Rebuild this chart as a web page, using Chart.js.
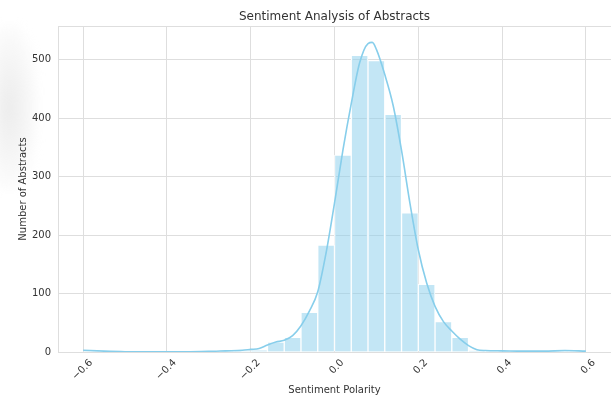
<!DOCTYPE html>
<html>
<head>
<meta charset="utf-8">
<script src="https://cdn.jsdelivr.net/npm/chart.js@4.4.0/dist/chart.umd.min.js"></script>
<style>
  html, body { margin: 0; padding: 0; background: #fff; }
  #wrap { position: relative; width: 611px; height: 396px; overflow: hidden; }
  #smudge {
    position: absolute; left: -6px; top: 25px; width: 44px; height: 165px;
    background: radial-gradient(ellipse at 35% 50%, rgba(200,200,200,0.35), rgba(225,225,225,0.18) 60%, rgba(255,255,255,0) 80%);
    filter: blur(4px);
  }
  canvas { position: absolute; left: 0; top: 0; }
</style>
</head>
<body>
<div id="wrap">
  <div id="smudge"></div>
  <canvas id="sentimentChart" width="611" height="396"></canvas>
</div>
<script>
// histogram bins (centres, width 0.04) and counts
const binCenters = [
  -0.58, -0.54, -0.50, -0.46, -0.42, -0.38, -0.34, -0.30, -0.26, -0.22,
  -0.18, -0.14, -0.10, -0.06, -0.02, 0.02, 0.06, 0.10, 0.14, 0.18,
  0.22, 0.26, 0.30, 0.34, 0.38, 0.42, 0.46, 0.50, 0.54, 0.58
];
const binCounts = [
  1, 0, 0, 0, 0, 0, 0, 0, 1, 1,
  3, 17, 25, 68, 183, 337, 508, 499, 407, 238,
  116, 52, 25, 2, 1, 1, 1, 0, 1, 1
];

// density curve
const kdeX = [
  -0.60, -0.55, -0.50, -0.45, -0.40, -0.35, -0.30, -0.26, -0.22, -0.20,
  -0.18, -0.16, -0.14, -0.12, -0.10, -0.08, -0.06, -0.04, -0.02, 0.00,
  0.02, 0.04, 0.06, 0.08, 0.09, 0.10, 0.12, 0.14, 0.16, 0.18,
  0.20, 0.22, 0.24, 0.26, 0.28, 0.30, 0.32, 0.34, 0.36, 0.40,
  0.45, 0.50, 0.55, 0.60
];
const kdeY = [
  3, 1.5, 0.5, 0.3, 0.3, 0.5, 1, 2, 3, 4.5,
  6, 12, 17, 20, 28, 45, 70, 103, 170, 255,
  345, 425, 495, 528, 530, 518, 475, 422, 345, 255,
  175, 118, 78, 52, 36, 22, 11, 4, 2.5, 2,
  1.5, 1.5, 2.5, 1.5
];

const xTicks = [-0.6, -0.4, -0.2, 0.0, 0.2, 0.4, 0.6];
const xTickLabels = ["\u22120.6", "\u22120.4", "\u22120.2", "0.0", "0.2", "0.4", "0.6"];
const yTicks = [0, 100, 200, 300, 400, 500];

const gridColor = "#dedede";
const textColor = "#333333";
const font = "DejaVu Sans";

// seaborn-ish top spine
const topSpine = {
  id: "topSpine",
  afterDraw(chart) {
    const { ctx, chartArea } = chart;
    ctx.save();
    ctx.strokeStyle = gridColor;
    ctx.lineWidth = 1;
    ctx.beginPath();
    ctx.moveTo(chartArea.left, chartArea.top + 0.5);
    ctx.lineTo(chartArea.right, chartArea.top + 0.5);
    ctx.stroke();
    ctx.restore();
  },
};

const ctx = document.getElementById("sentimentChart").getContext("2d");
new Chart(ctx, {
  data: {
    datasets: [
      {
        type: "line",
        data: kdeX.map((x, i) => ({ x: x, y: kdeY[i] })),
        borderColor: "#87CEEB",
        borderWidth: 1.6,
        pointRadius: 0,
        cubicInterpolationMode: "monotone",
        fill: false,
        order: 0,
      },
      {
        type: "bar",
        data: binCenters.map((x, i) => ({ x: x, y: binCounts[i] })),
        backgroundColor: "rgba(135, 206, 235, 0.5)",
        borderColor: "#ffffff",
        borderWidth: 1,
        barPercentage: 1,
        categoryPercentage: 1,
        order: 1,
      },
    ],
  },
  options: {
    responsive: false,
    animation: false,
    layout: { padding: 0 },
    plugins: {
      legend: { display: false },
      tooltip: { enabled: false },
      title: {
        display: true,
        fullSize: false,
        text: "Sentiment Analysis of Abstracts",
        color: textColor,
        font: { family: font, size: 12, weight: "normal" },
        padding: { top: 10, bottom: 1.6 },
      },
    },
    scales: {
      x: {
        type: "linear",
        min: -0.66,
        max: 0.66,
        offset: false,
        afterBuildTicks: (scale) => {
          scale.ticks = xTicks.map((v) => ({ value: v }));
        },
        afterFit: (scale) => {
          scale.height = 44;
        },
        ticks: {
          autoSkip: false,
          minRotation: 45,
          maxRotation: 45,
          labelOffset: 8,
          padding: 5,
          color: textColor,
          font: { family: font, size: 10 },
          callback: (v) => {
            const i = xTicks.findIndex((t) => Math.abs(t - v) < 1e-9);
            return i >= 0 ? xTickLabels[i] : "";
          },
        },
        grid: { color: gridColor, drawTicks: false, offset: false },
        border: { color: gridColor },
        title: {
          display: true,
          text: "Sentiment Polarity",
          color: textColor,
          font: { family: font, size: 10 },
          padding: { top: 0, bottom: 0 },
        },
      },
      y: {
        min: 0,
        max: 558,
        afterBuildTicks: (scale) => {
          scale.ticks = yTicks.map((v) => ({ value: v }));
        },
        afterFit: (scale) => {
          scale.width = 58;
        },
        ticks: {
          padding: 7,
          color: textColor,
          font: { family: font, size: 10 },
        },
        grid: { color: gridColor, drawTicks: false },
        border: { color: gridColor },
        title: {
          display: true,
          text: "Number of Abstracts",
          color: textColor,
          font: { family: font, size: 10 },
          padding: { top: 17, bottom: 0 },
        },
      },
    },
  },
  plugins: [topSpine],
});
</script>
</body>
</html>
